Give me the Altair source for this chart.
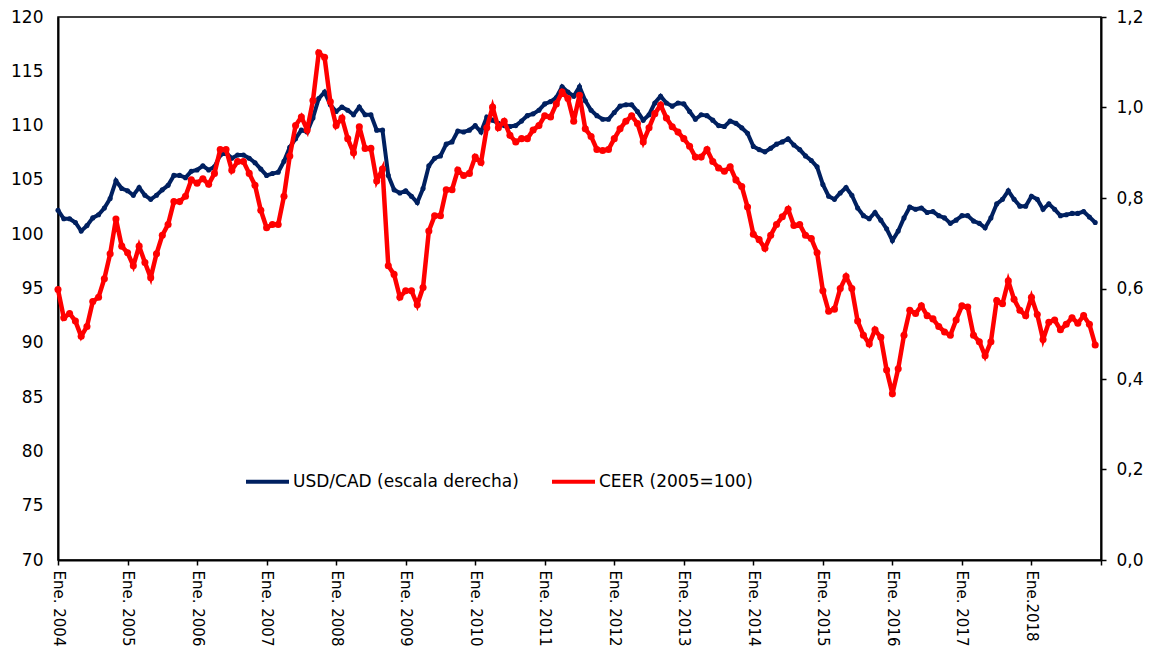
import altair as alt
import pandas as pd

# Month index 0 = Ene. 2004 ... 179 = Dic. 2018
x_ticks = list(range(0, 181, 12))
x_labels = ["Ene. 2004", "Ene. 2005", "Ene. 2006", "Ene. 2007", "Ene. 2008",
            "Ene. 2009", "Ene. 2010", "Ene. 2011", "Ene. 2012", "Ene. 2013",
            "Ene. 2014", "Ene. 2015", "Ene. 2016", "Ene. 2017", "Ene.2018", ""]

left_ticks = [70, 75, 80, 85, 90, 95, 100, 105, 110, 115, 120]
right_ticks = [0.0, 0.2, 0.4, 0.6, 0.8, 1.0, 1.2]

usd_name = "USD/CAD (escala derecha)"
ceer_name = "CEER (2005=100)"

ceer = [
    94.9, 92.3, 92.7, 92.0, 90.6, 91.5, 93.8, 94.2, 95.9, 98.2, 101.4, 98.9,
    98.3, 97.1, 98.9, 97.4, 96.0, 98.2, 99.9, 100.9, 103.0, 103.0, 103.5, 105.0,
    104.7, 105.1, 104.6, 105.6, 107.8, 107.8, 105.9, 106.7, 106.7, 105.6, 104.5, 102.2,
    100.6, 100.9, 100.9, 103.5, 107.2, 110.0, 110.8, 109.6, 112.3, 116.7, 116.3, 112.2,
    110.0, 110.7, 108.8, 107.5, 109.9, 107.9, 107.9, 104.9, 106.0, 97.1, 96.3, 94.2,
    94.8, 94.8, 93.5, 95.1, 100.3, 101.7, 101.7, 104.1, 104.1, 105.9, 105.4, 105.6,
    107.1, 106.6, 109.8, 111.7, 109.8, 110.4, 109.1, 108.5, 108.8, 108.8, 109.6, 110.0,
    110.9, 110.8, 112.0, 113.1, 112.5, 110.4, 112.8, 109.7, 109.0, 107.8, 107.7, 107.8,
    108.8, 109.7, 110.4, 110.9, 110.2, 108.5, 109.8, 111.1, 111.9, 110.7, 109.9, 109.4,
    108.8, 108.1, 107.1, 107.1, 107.8, 106.7, 106.1, 105.8, 106.2, 105.0, 104.4, 102.5,
    100.0, 99.5, 98.7, 99.9, 100.9, 101.6, 102.3, 100.8, 100.9, 99.9, 99.6, 98.3,
    94.8, 92.9, 93.1, 95.0, 96.1, 95.0, 92.0, 90.7, 89.9, 91.2, 90.5, 87.5,
    85.3, 87.6, 90.7, 93.0, 92.7, 93.4, 92.5, 92.2, 91.5, 91.0, 90.7, 92.1,
    93.4, 93.3, 90.7, 90.1, 88.8, 90.1, 93.9, 93.6, 95.7, 94.0, 93.0, 92.5,
    94.2, 92.6, 90.3, 91.9, 92.1, 91.2, 91.7, 92.3, 91.8, 92.5, 91.7, 89.8,
]

usdcad = [
    0.773, 0.754, 0.754, 0.746, 0.727, 0.739, 0.756, 0.763, 0.778, 0.799, 0.838, 0.821,
    0.816, 0.806, 0.823, 0.806, 0.797, 0.806, 0.818, 0.828, 0.850, 0.850, 0.845, 0.859,
    0.862, 0.871, 0.862, 0.869, 0.895, 0.900, 0.888, 0.895, 0.895, 0.888, 0.878, 0.864,
    0.850, 0.854, 0.857, 0.881, 0.912, 0.931, 0.950, 0.946, 0.977, 1.020, 1.034, 1.006,
    0.991, 1.001, 0.994, 0.984, 1.001, 0.984, 0.984, 0.950, 0.950, 0.850, 0.818, 0.811,
    0.816, 0.804, 0.790, 0.821, 0.871, 0.888, 0.893, 0.919, 0.924, 0.948, 0.946, 0.950,
    0.960, 0.946, 0.979, 0.972, 0.965, 0.960, 0.958, 0.960, 0.970, 0.982, 0.986, 0.994,
    1.008, 1.013, 1.022, 1.046, 1.034, 1.025, 1.046, 1.015, 0.994, 0.982, 0.974, 0.974,
    0.989, 1.003, 1.006, 1.006, 0.991, 0.972, 0.984, 1.010, 1.025, 1.010, 1.003, 1.010,
    1.008, 0.991, 0.974, 0.984, 0.982, 0.972, 0.960, 0.958, 0.970, 0.965, 0.955, 0.943,
    0.914, 0.907, 0.902, 0.910, 0.919, 0.924, 0.931, 0.917, 0.907, 0.893, 0.883, 0.869,
    0.830, 0.804, 0.797, 0.811, 0.823, 0.806, 0.778, 0.761, 0.754, 0.768, 0.751, 0.732,
    0.706, 0.727, 0.756, 0.780, 0.775, 0.778, 0.768, 0.770, 0.761, 0.756, 0.744, 0.751,
    0.761, 0.761, 0.749, 0.744, 0.734, 0.756, 0.787, 0.797, 0.816, 0.797, 0.782, 0.782,
    0.804, 0.797, 0.775, 0.787, 0.775, 0.761, 0.763, 0.766, 0.766, 0.770, 0.758, 0.746,
]

months = list(range(len(ceer)))

usd_df = pd.DataFrame({"mes": months, "valor": usdcad, "serie": usd_name})
ceer_df = pd.DataFrame({"mes": months, "valor": ceer, "serie": ceer_name})

label_array = "[" + ",".join("'" + l + "'" for l in x_labels) + "]"

x_enc = alt.X(
    "mes:Q",
    scale=alt.Scale(domain=[0, 180], nice=False, zero=False),
    axis=alt.Axis(
        values=x_ticks,
        labelExpr=label_array + "[round(datum.value / 12)]",
        labelAngle=90, labelAlign="left", labelBaseline="middle",
        labelFontSize=15,
        tickSize=5, labelPadding=5, grid=False, title=None,
        labelOverlap=False,
    ),
)

color_enc = alt.Color(
    "serie:N",
    scale=alt.Scale(domain=[usd_name, ceer_name], range=["#002060", "#FF0000"]),
    legend=alt.Legend(
        orient="none", legendX=186, legendY=441, direction="horizontal",
        columns=2, title=None, symbolType="stroke", symbolSize=1849,
        symbolStrokeWidth=4, labelFontSize=17, labelOffset=2,
        columnPadding=25, labelLimit=0, padding=0,
    ),
)

blue = alt.Chart(usd_df).mark_line(
    strokeWidth=4, point=alt.OverlayMarkDef(filled=True, size=26)
).encode(
    x=x_enc,
    y=alt.Y(
        "valor:Q",
        scale=alt.Scale(domain=[0, 1.2], nice=False, zero=False),
        axis=alt.Axis(
            orient="right", values=right_ticks,
            labelExpr="replace(format(datum.value, '.1f'), '.', ',')",
            tickSize=5, labelPadding=10, grid=False, title=None,
        ),
    ),
    color=color_enc,
)

red = alt.Chart(ceer_df).mark_line(
    strokeWidth=4.5, point=alt.OverlayMarkDef(filled=True, size=50)
).encode(
    x=x_enc,
    y=alt.Y(
        "valor:Q",
        scale=alt.Scale(domain=[70, 120], nice=False, zero=False),
        axis=alt.Axis(
            orient="left", values=left_ticks, ticks=False,
            labelPadding=15, grid=False, title=None,
        ),
    ),
    color=color_enc,
)

chart = alt.layer(blue, red).resolve_scale(y="independent").properties(
    width=1043, height=543,
    autosize=alt.AutoSizeParams(type="none"),
    padding={"left": 50, "top": 9, "right": 44, "bottom": 89},
).configure(
    font="DejaVu Sans",
).configure_view(
    stroke="#000000", strokeWidth=1.5,
).configure_axis(
    labelFont="DejaVu Sans", labelFontSize=17, labelColor="#000000",
    domainColor="#000000", domainWidth=2, tickColor="#000000", tickWidth=1.5,
).configure_legend(
    labelFont="DejaVu Sans", labelColor="#000000",
)

chart.save("out.html", embed_options={"renderer": "svg", "actions": False})
